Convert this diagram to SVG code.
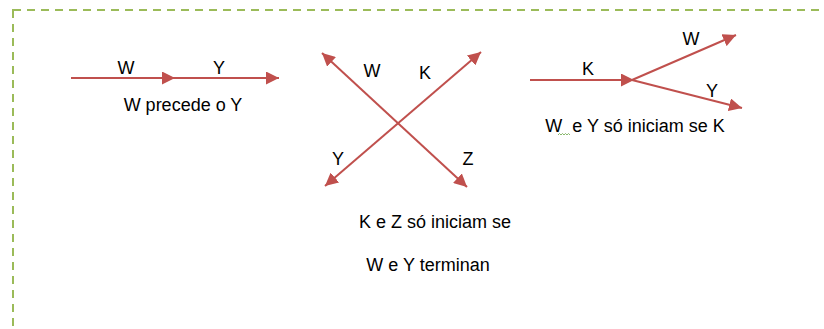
<svg xmlns="http://www.w3.org/2000/svg" width="824" height="329" viewBox="0 0 824 329">
<style>
.bd{fill:none;stroke:#9BBB59;stroke-width:2;stroke-dasharray:8 6}
.ar{fill:none;stroke:#C0504D;stroke-width:2}
.t{font-family:"Liberation Sans",Arial,sans-serif;font-size:18px;fill:#000;text-anchor:middle}
</style>
<defs>
<marker id="ah" markerUnits="userSpaceOnUse" markerWidth="13" markerHeight="13" refX="13" refY="6.5" orient="auto-start-reverse" viewBox="0 0 13 13">
<path d="M0,0 L13,6.5 L0,13 z" fill="#C0504D"/>
</marker>
</defs>
<rect class="bd" x="13" y="10" width="840" height="340"/>
<g id="connectors">
<line class="ar" x1="71" y1="78" x2="175" y2="78" marker-end="url(#ah)"/>
<line class="ar" x1="175" y1="78" x2="279" y2="78" marker-end="url(#ah)"/>
<line class="ar" x1="322" y1="53" x2="467" y2="187" marker-start="url(#ah)" marker-end="url(#ah)"/>
<line class="ar" x1="325" y1="186" x2="481" y2="52" marker-start="url(#ah)" marker-end="url(#ah)"/>
<line class="ar" x1="530" y1="80" x2="634" y2="80" marker-end="url(#ah)"/>
<line class="ar" x1="632" y1="80" x2="736" y2="35" marker-end="url(#ah)"/>
<line class="ar" x1="632" y1="80" x2="742" y2="108" marker-end="url(#ah)"/>
</g>
<g id="precede">
<text class="t" x="126" y="74">W</text>
<text class="t" x="219" y="74">Y</text>
<text class="t" x="183" y="111">W precede o Y</text>
</g>
<g id="cross">
<text class="t" x="372" y="77">W</text>
<text class="t" x="425" y="79">K</text>
<text class="t" x="338" y="165">Y</text>
<text class="t" x="468" y="165">Z</text>
<text class="t" x="435" y="228">K e Z só iniciam se</text>
<text class="t" x="428" y="271">W e Y terminan</text>
</g>
<g id="fork">
<text class="t" x="588" y="75">K</text>
<text class="t" x="691" y="45">W</text>
<text class="t" x="712" y="97">Y</text>
<text class="t" x="635" y="132" xml:space="preserve">W  e Y só iniciam se K</text>
<path d="M558,135 l1.5,-1.5 l1.5,1.5 l1.5,-1.5 l1.5,1.5 l1.5,-1.5 l1.5,1.5 l1.5,-1.5 l1.5,1.5" fill="none" stroke="#6BA547" stroke-width="0.8"/>
</g>
</svg>
